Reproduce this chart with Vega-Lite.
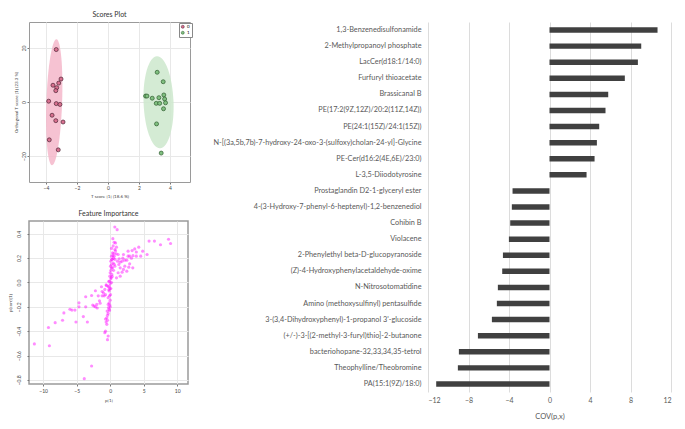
{
  "$schema": "https://vega.github.io/schema/vega-lite/v6.json",
  "background": "white",
  "padding": {"left": 6, "top": 10, "right": 5, "bottom": 5},
  "config": {
    "font": "Lato",
    "view": {"stroke": null},
    "axis": {"labelFont": "Lato", "titleFont": "Lato"}
  },
  "datasets": {
    "scores": [
      {"x": -3.34, "y": 19.4, "group": "0"},
      {"x": -3.03, "y": 8.5, "group": "0"},
      {"x": -3.18, "y": 7.0, "group": "0"},
      {"x": -3.55, "y": 6.2, "group": "0"},
      {"x": -3.31, "y": 5.3, "group": "0"},
      {"x": -3.37, "y": 4.2, "group": "0"},
      {"x": -3.83, "y": 0.3, "group": "0"},
      {"x": -3.34, "y": -0.6, "group": "0"},
      {"x": -3.10, "y": -0.9, "group": "0"},
      {"x": -3.61, "y": -4.9, "group": "0"},
      {"x": -3.37, "y": -6.9, "group": "0"},
      {"x": -2.90, "y": -7.4, "group": "0"},
      {"x": -3.79, "y": -14.0, "group": "0"},
      {"x": -3.21, "y": -17.7, "group": "0"},
      {"x": 3.18, "y": 11.0, "group": "1"},
      {"x": 3.57, "y": 7.5, "group": "1"},
      {"x": 2.43, "y": 2.2, "group": "1"},
      {"x": 2.52, "y": 2.2, "group": "1"},
      {"x": 2.86, "y": 1.4, "group": "1"},
      {"x": 3.29, "y": 1.6, "group": "1"},
      {"x": 3.61, "y": 2.6, "group": "1"},
      {"x": 3.66, "y": 1.1, "group": "1"},
      {"x": 3.12, "y": -0.5, "group": "1"},
      {"x": 3.34, "y": -0.5, "group": "1"},
      {"x": 3.72, "y": -0.3, "group": "1"},
      {"x": 3.59, "y": -2.5, "group": "1"},
      {"x": 3.14, "y": -8.1, "group": "1"},
      {"x": 3.44, "y": -18.9, "group": "1"}
    ],
    "centers": [
      {"x": -3.47, "y": -0.1, "group": "0"},
      {"x": 3.27, "y": -0.1, "group": "1"}
    ],
    "features": [
      {"p": 0.69, "pcorr": 0.456}, {"p": 1.04, "pcorr": 0.434}, {"p": 0.4, "pcorr": 0.36}, {"p": 0.59, "pcorr": 0.33},
      {"p": 0.8, "pcorr": 0.325}, {"p": 0.45, "pcorr": 0.30}, {"p": 0.2, "pcorr": 0.28}, {"p": 0.7, "pcorr": 0.27},
      {"p": 0.94, "pcorr": 0.29}, {"p": 0.35, "pcorr": 0.243}, {"p": 0.9, "pcorr": 0.235}, {"p": 0.2, "pcorr": 0.216},
      {"p": 0.5, "pcorr": 0.2}, {"p": 0.3, "pcorr": 0.19}, {"p": 0.1, "pcorr": 0.175}, {"p": 0.45, "pcorr": 0.16},
      {"p": 0.2, "pcorr": 0.148}, {"p": 0.05, "pcorr": 0.134}, {"p": 0.35, "pcorr": 0.12}, {"p": 0.1, "pcorr": 0.1},
      {"p": 0.0, "pcorr": 0.08}, {"p": 0.25, "pcorr": 0.066}, {"p": -0.05, "pcorr": 0.052}, {"p": 0.1, "pcorr": 0.03},
      {"p": -0.1, "pcorr": 0.01}, {"p": 0.0, "pcorr": -0.01}, {"p": -0.15, "pcorr": -0.03}, {"p": -0.05, "pcorr": -0.05},
      {"p": -0.3, "pcorr": -0.035}, {"p": -0.55, "pcorr": -0.025}, {"p": -0.15, "pcorr": -0.07}, {"p": 0.05, "pcorr": -0.1},
      {"p": -0.1, "pcorr": -0.11}, {"p": -0.3, "pcorr": -0.125}, {"p": 0.0, "pcorr": -0.145}, {"p": -0.15, "pcorr": -0.167},
      {"p": -0.05, "pcorr": -0.186}, {"p": -0.25, "pcorr": -0.207}, {"p": -0.15, "pcorr": -0.22}, {"p": -0.45, "pcorr": -0.235},
      {"p": -0.3, "pcorr": -0.254}, {"p": -0.5, "pcorr": -0.29}, {"p": -0.7, "pcorr": -0.3}, {"p": -0.4, "pcorr": -0.31},
      {"p": -0.6, "pcorr": -0.325}, {"p": -0.5, "pcorr": -0.344}, {"p": -0.7, "pcorr": -0.4}, {"p": -0.8, "pcorr": -0.413},
      {"p": -0.3, "pcorr": -0.44}, {"p": -0.4, "pcorr": -0.47},
      {"p": 0.3, "pcorr": 0.05}, {"p": 0.5, "pcorr": 0.1}, {"p": 0.6, "pcorr": 0.15}, {"p": 0.2, "pcorr": 0.0},
      {"p": 0.1, "pcorr": -0.05}, {"p": -0.2, "pcorr": -0.06}, {"p": 0.4, "pcorr": 0.22}, {"p": 0.8, "pcorr": 0.26},
      {"p": 0.2, "pcorr": 0.12}, {"p": 0.7, "pcorr": 0.19}, {"p": -0.3, "pcorr": -0.18}, {"p": -0.1, "pcorr": -0.23},
      {"p": -0.4, "pcorr": -0.27}, {"p": 0.0, "pcorr": -0.2}, {"p": 0.15, "pcorr": 0.04}, {"p": 0.25, "pcorr": 0.19},
      {"p": 0.55, "pcorr": 0.24}, {"p": -0.6, "pcorr": -0.02}, {"p": -0.2, "pcorr": 0.01},
      {"p": -11.3, "pcorr": -0.505}, {"p": -9.06, "pcorr": -0.52}, {"p": -9.2, "pcorr": -0.37}, {"p": -8.2, "pcorr": -0.33},
      {"p": -7.1, "pcorr": -0.31}, {"p": -6.9, "pcorr": -0.25}, {"p": -6.0, "pcorr": -0.22}, {"p": -5.7, "pcorr": -0.227},
      {"p": -5.25, "pcorr": -0.227}, {"p": -5.1, "pcorr": -0.325}, {"p": -4.65, "pcorr": -0.167}, {"p": -4.65, "pcorr": -0.2},
      {"p": -4.0, "pcorr": -0.28}, {"p": -3.65, "pcorr": -0.117}, {"p": -3.65, "pcorr": -0.2}, {"p": -3.4, "pcorr": -0.325},
      {"p": -2.77, "pcorr": -0.107}, {"p": -2.6, "pcorr": -0.186}, {"p": -2.4, "pcorr": -0.194}, {"p": -2.2, "pcorr": -0.068},
      {"p": -2.2, "pcorr": -0.2}, {"p": -2.0, "pcorr": -0.18}, {"p": -1.93, "pcorr": -0.21}, {"p": -1.78, "pcorr": -0.11},
      {"p": -1.6, "pcorr": -0.15}, {"p": -1.5, "pcorr": -0.17}, {"p": -1.3, "pcorr": -0.035}, {"p": -1.2, "pcorr": -0.074},
      {"p": -1.0, "pcorr": -0.085}, {"p": -1.2, "pcorr": -0.11}, {"p": -0.9, "pcorr": -0.11}, {"p": -0.8, "pcorr": -0.057},
      {"p": -0.7, "pcorr": -0.1}, {"p": -2.77, "pcorr": -0.686}, {"p": -3.86, "pcorr": -0.79},
      {"p": 5.8, "pcorr": 0.34}, {"p": 6.6, "pcorr": 0.34}, {"p": 7.5, "pcorr": 0.31}, {"p": 8.7, "pcorr": 0.355},
      {"p": 9.0, "pcorr": 0.32}, {"p": 5.5, "pcorr": 0.23}, {"p": 4.85, "pcorr": 0.257}, {"p": 4.26, "pcorr": 0.29},
      {"p": 4.55, "pcorr": 0.216}, {"p": 3.66, "pcorr": 0.276}, {"p": 3.9, "pcorr": 0.25}, {"p": 3.27, "pcorr": 0.262},
      {"p": 2.67, "pcorr": 0.257}, {"p": 3.4, "pcorr": 0.22}, {"p": 3.9, "pcorr": 0.216}, {"p": 3.17, "pcorr": 0.2},
      {"p": 2.9, "pcorr": 0.216}, {"p": 2.67, "pcorr": 0.216}, {"p": 1.98, "pcorr": 0.23}, {"p": 1.88, "pcorr": 0.2},
      {"p": 2.18, "pcorr": 0.183}, {"p": 1.78, "pcorr": 0.175}, {"p": 2.48, "pcorr": 0.183}, {"p": 2.9, "pcorr": 0.153},
      {"p": 3.37, "pcorr": 0.12}, {"p": 2.77, "pcorr": 0.126}, {"p": 2.18, "pcorr": 0.134}, {"p": 1.98, "pcorr": 0.107},
      {"p": 2.48, "pcorr": 0.093}, {"p": 1.78, "pcorr": 0.085}, {"p": 1.49, "pcorr": 0.12}, {"p": 1.29, "pcorr": 0.148},
      {"p": 1.19, "pcorr": 0.08}, {"p": 1.49, "pcorr": 0.052}, {"p": 0.94, "pcorr": 0.038}, {"p": 0.7, "pcorr": 0.134},
      {"p": 1.09, "pcorr": 0.175}, {"p": 1.49, "pcorr": 0.167}, {"p": 1.19, "pcorr": 0.23}, {"p": 0.6, "pcorr": 0.216},
      {"p": 1.34, "pcorr": 0.194}
    ],
    "bars": [
      {"name": "1,3-Benzenedisulfonamide", "cov": 10.67},
      {"name": "2-Methylpropanoyl phosphate", "cov": 9.06},
      {"name": "LacCer(d18:1/14:0)", "cov": 8.73},
      {"name": "Furfuryl thioacetate", "cov": 7.44},
      {"name": "Brassicanal B", "cov": 5.80},
      {"name": "PE(17:2(9Z,12Z)/20:2(11Z,14Z))", "cov": 5.53},
      {"name": "PE(24:1(15Z)/24:1(15Z))", "cov": 4.91},
      {"name": "N-[(3a,5b,7b)-7-hydroxy-24-oxo-3-(sulfoxy)cholan-24-yl]-Glycine", "cov": 4.68},
      {"name": "PE-Cer(d16:2(4E,6E)/23:0)", "cov": 4.45},
      {"name": "L-3,5-Diiodotyrosine", "cov": 3.66},
      {"name": "Prostaglandin D2-1-glyceryl ester", "cov": -3.65},
      {"name": "4-(3-Hydroxy-7-phenyl-6-heptenyl)-1,2-benzenediol", "cov": -3.72},
      {"name": "Cohibin B", "cov": -3.88},
      {"name": "Violacene", "cov": -4.01},
      {"name": "2-Phenylethyl beta-D-glucopyranoside", "cov": -4.6},
      {"name": "(Z)-4-Hydroxyphenylacetaldehyde-oxime", "cov": -4.67},
      {"name": "N-Nitrosotomatidine", "cov": -5.1},
      {"name": "Amino (methoxysulfinyl) pentasulfide", "cov": -5.2},
      {"name": "3-(3,4-Dihydroxyphenyl)-1-propanol 3'-glucoside", "cov": -5.69},
      {"name": "(+/-)-3-[(2-methyl-3-furyl)thio]-2-butanone", "cov": -7.07},
      {"name": "bacteriohopane-32,33,34,35-tetrol", "cov": -8.95},
      {"name": "Theophylline/Theobromine", "cov": -9.05},
      {"name": "PA(15:1(9Z)/18:0)", "cov": -11.19}
    ]
  },
  "spacing": 21,
  "hconcat": [
    {
      "spacing": 11,
      "columns": 1,
      "align": "none",
      "concat": [
        {
          "width": 161,
          "height": 160,
          "title": {"text": "Scores Plot", "fontSize": 7, "fontWeight": "normal", "color": "#333333", "offset": 4},
          "view": {"stroke": "#9a9a9a", "strokeWidth": 1},
          "layer": [
            {
              "data": {"name": "centers"},
              "transform": [{"filter": "datum.group == '0'"}],
              "mark": {"type": "point", "shape": "M0,-1A0.125,1,0,1,1,0,1A0.125,1,0,1,1,0,-1Z", "size": 15876, "filled": true, "color": "#f4b3c7", "opacity": 0.8, "angle": 2, "strokeWidth": 0},
              "encoding": {
                "x": {"field": "x", "type": "quantitative", "scale": {"domain": [-5.1, 5.3], "nice": false, "zero": false},
                  "axis": {"values": [-4, -2, 0, 2, 4], "title": "T score [1] (18.6 %)", "tickSize": 2, "labelPadding": 1, "labelFontSize": 5, "titleFontSize": 4.5, "titleFontWeight": "normal", "titlePadding": 3, "labelColor": "#444", "titleColor": "#444", "tickColor": "#777", "domain": false, "grid": true, "gridColor": "#e8e8e8"}},
                "y": {"field": "y", "type": "quantitative", "scale": {"domain": [-29.6, 29.6], "nice": false, "zero": false},
                  "axis": {"values": [-20, -10, 0, 10, 20], "title": "Orthogonal T score [1] (23.3 %)", "labelAngle": -90, "tickSize": 2, "labelPadding": 1, "labelFontSize": 5, "titleFontSize": 4.5, "titleFontWeight": "normal", "titlePadding": 3, "minExtent": 8, "maxExtent": 8, "labelColor": "#444", "titleColor": "#444", "tickColor": "#777", "domain": false, "grid": true, "gridColor": "#e8e8e8"}}
              }
            },
            {
              "data": {"name": "centers"},
              "transform": [{"filter": "datum.group == '1'"}],
              "mark": {"type": "point", "shape": "M0,-1A0.326,1,0,1,1,0,1A0.326,1,0,1,1,0,-1Z", "size": 8464, "filled": true, "color": "#cde8cd", "opacity": 0.85, "angle": -2, "strokeWidth": 0},
              "encoding": {
                "x": {"field": "x", "type": "quantitative"},
                "y": {"field": "y", "type": "quantitative"}
              }
            },
            {
              "data": {"name": "scores"},
              "mark": {"type": "point", "filled": true, "size": 16, "strokeWidth": 0.7, "opacity": 1},
              "encoding": {
                "x": {"field": "x", "type": "quantitative"},
                "y": {"field": "y", "type": "quantitative"},
                "color": {"field": "group", "type": "nominal", "scale": {"domain": ["0", "1"], "range": ["#d9708f", "#80c080"]},
                  "legend": {"orient": "none", "legendX": 150, "legendY": 1, "title": null, "labelFontSize": 4.5, "symbolSize": 9, "symbolStrokeWidth": 0.5, "strokeColor": "#888", "fillColor": "white", "padding": 1.5, "rowPadding": 0, "labelOffset": 2, "symbolType": "circle"}},
                "stroke": {"field": "group", "type": "nominal", "scale": {"domain": ["0", "1"], "range": ["#4a2233", "#2c5a2c"]}, "legend": null}
              }
            }
          ]
        },
        {
          "width": 159,
          "height": 163,
          "title": {"text": "Feature Importance", "fontSize": 7, "fontWeight": "normal", "color": "#333333", "offset": 4},
          "view": {"stroke": "#9a9a9a", "strokeWidth": 1.5},
          "data": {"name": "features"},
          "mark": {"type": "circle", "size": 10, "color": "#ff00ff", "opacity": 0.45},
          "encoding": {
            "x": {"field": "p", "type": "quantitative", "scale": {"domain": [-12.1, 11.6], "nice": false, "zero": false},
              "axis": {"values": [-10, -5, 0, 5, 10], "title": "p[1]", "tickSize": 2, "labelPadding": 2, "labelFontSize": 5, "titleFontSize": 4.5, "titleFontWeight": "normal", "titlePadding": 4, "labelColor": "#444", "titleColor": "#444", "tickColor": "#777", "domain": false, "grid": true, "gridColor": "#e8e8e8"}},
            "y": {"field": "pcorr", "type": "quantitative", "scale": {"domain": [-0.834, 0.505], "nice": false, "zero": false},
              "axis": {"values": [-0.8, -0.6, -0.4, -0.2, 0, 0.2, 0.4], "format": ".1f", "title": "p(corr)[1]", "labelAngle": -90, "tickSize": 2, "labelPadding": 5.5, "labelFontSize": 5, "titleFontSize": 4.5, "titleFontWeight": "normal", "titlePadding": 3, "minExtent": 14, "maxExtent": 14, "labelColor": "#444", "titleColor": "#444", "tickColor": "#777", "domain": false, "grid": true, "gridColor": "#e8e8e8"}}
          }
        }
      ]
    },
    {
      "width": 243,
      "height": 370,
      "title": {"text": " ", "fontSize": 8, "offset": 0},
      "data": {"name": "bars"},
      "mark": {"type": "bar", "color": "#404040"},
      "encoding": {
        "y": {"field": "name", "type": "nominal", "sort": null, "scale": {"paddingInner": 0.66, "paddingOuter": 0.33},
          "axis": {"title": null, "domain": false, "ticks": false, "labelPadding": 7, "labelFontSize": 7.3, "labelColor": "#595959", "labelLimit": 0, "grid": false}},
        "x": {"field": "cov", "type": "quantitative", "scale": {"domain": [-12, 12], "nice": false},
          "axis": {"values": [-12, -8, -4, 0, 4, 8, 12], "title": "COV(p,x)", "grid": true, "gridColor": "#dcdcdc", "domain": false, "ticks": false, "labelFontSize": 7, "labelColor": "#595959", "labelPadding": 4, "titlePadding": 9, "titleFontSize": 7.5, "titleFontWeight": "normal", "titleColor": "#595959"}}
      }
    }
  ]
}
